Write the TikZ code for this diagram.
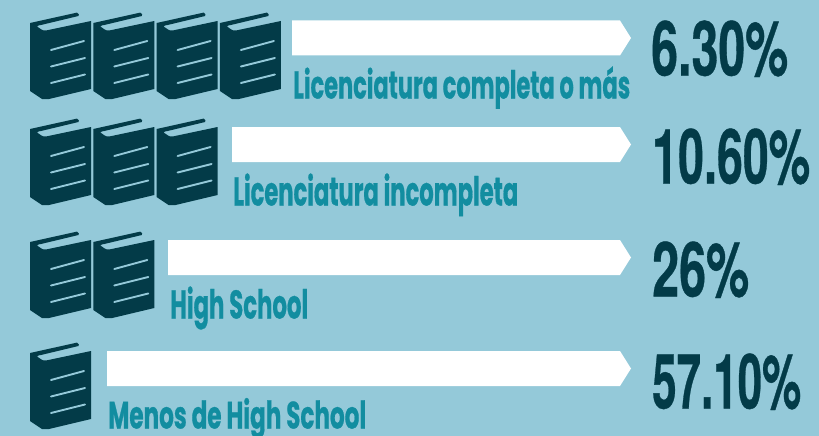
\documentclass[tikz,border=0pt]{standalone}
\usepackage{fontspec}
\setmainfont{Poppins}[BoldFont={Poppins Bold},BoldFeatures={FakeBold=0.8}]
\newfontfamily\pctfont{TeX Gyre Heros Bold}[FakeBold=0.6]
\definecolor{bgc}{HTML}{94C9D9}
\definecolor{darkc}{HTML}{033B48}
\definecolor{tealc}{HTML}{128DA0}
\tikzset{
  labeltext/.style={anchor=base west,inner sep=0pt,text=tealc,font=\bfseries},
  pcttext/.style={anchor=base west,inner sep=0pt,text=darkc,font=\pctfont},
  barshape/.style={fill=white,draw=none},
  bookline/.style={draw=bgc,line width=1.9pt,line cap=round},
}
\newcommand{\bookat}[2]{%
  \begin{scope}[shift={(#1,#2)}]
    \fill[darkc] (0,10) -- (47,-0.4) to[out=-10,in=10] (48.5,3) -- (11,12)
      to[out=195,in=60] (7,13.5) to[out=-30,in=190] (16,17.5) -- (61,8) -- (61,76)
      -- (19,86) to[out=170,in=10] (12,86) -- (0,78) -- cycle;
    \draw[bookline] (21,37) -- (54,28);
    \draw[bookline] (21,53.5) -- (55,45);
    \draw[bookline] (21,70) -- (55,61.5);
  \end{scope}}
\newcommand{\barat}[3]{\fill[barshape] (#1,#2) -- (620,#2) -- (631,#2+17.5) -- (620,#2+35) -- (#1,#2+35) -- cycle;}
\begin{document}
\begin{tikzpicture}[x=1pt,y=-1pt]
\useasboundingbox (0,0) rectangle (819,436);
\fill[bgc] (0,0) rectangle (819,436);
% books
\foreach \i in {0,1,2,3}{\bookat{30+63.3*\i}{13}}
\foreach \i in {0,1,2}{\bookat{30+63.3*\i}{119}}
\foreach \i in {0,1}{\bookat{30+63.3*\i}{232}}
\bookat{30}{343}
% bars
\barat{292}{20.5}{}
\barat{232}{127}{}
\barat{168}{240}{}
\barat{107}{351}{}
% labels
\node[labeltext] (l1) at (293,98.5) {\resizebox{337pt}{32pt}{Licenciatura completa o más}};
\node[labeltext] (l2) at (233,205.5) {\resizebox{285pt}{32pt}{Licenciatura incompleta}};
\node[labeltext] (l3) at (170,318.5) {\resizebox{138pt}{32pt}{High School}};
\node[labeltext] (l4) at (108,428.5) {\resizebox{258pt}{30.5pt}{Menos de High School}};
% percentages
\node[pcttext] (p1) at (651,75.5) {\resizebox{137pt}{55pt}{6.30\%}};
\node[pcttext] (p2) at (652,183.5) {\resizebox{158pt}{55pt}{10.60\%}};
\node[pcttext] (p3) at (652,296.5) {\resizebox{97pt}{55pt}{26\%}};
\node[pcttext] (p4) at (652,408.5) {\resizebox{149pt}{55pt}{57.10\%}};
\end{tikzpicture}
\end{document}
